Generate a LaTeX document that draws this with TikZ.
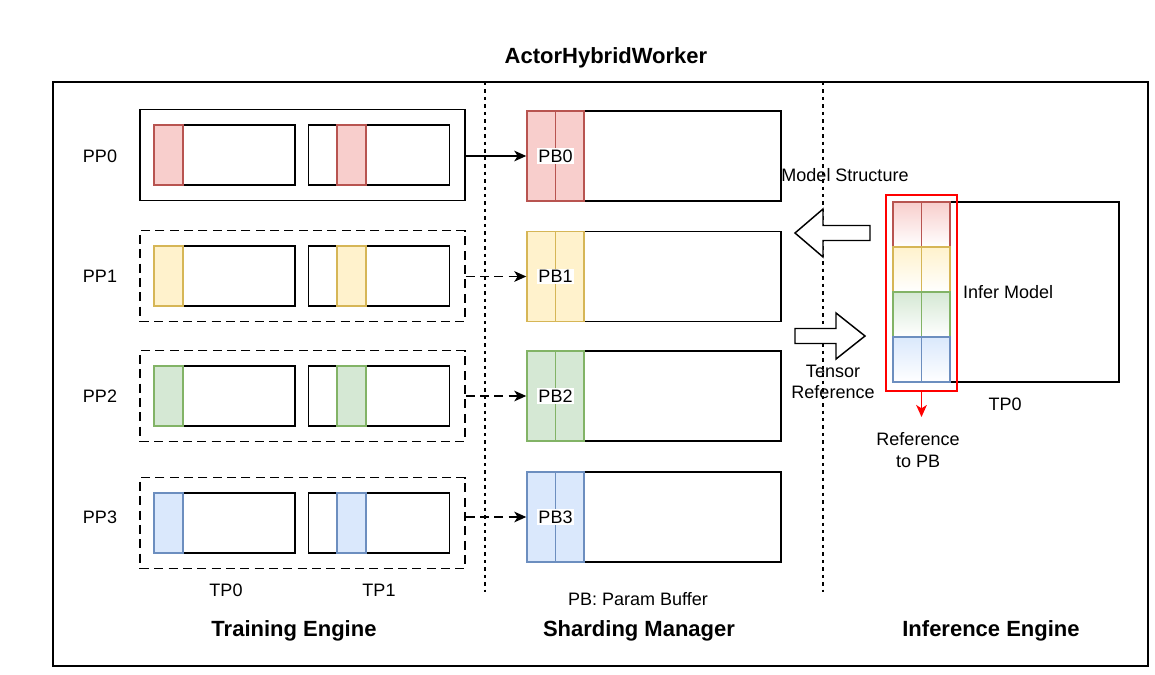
\documentclass[tikz,border=0pt]{standalone}
\usepackage{fontspec}
\setmainfont{Liberation Sans}
\usepackage{tikz}
\usetikzlibrary{arrows.meta,calc}
\newcommand{\pxu}{0.75pt}
\definecolor{redfill}{HTML}{F8CECC}\definecolor{rededge}{HTML}{B85450}
\definecolor{yellowfill}{HTML}{FFF2CC}\definecolor{yellowedge}{HTML}{D6B656}
\definecolor{greenfill}{HTML}{D5E8D4}\definecolor{greenedge}{HTML}{82B366}
\definecolor{bluefill}{HTML}{DAE8FC}\definecolor{blueedge}{HTML}{6C8EBF}

\begin{document}
\begin{tikzpicture}[x=0.75pt,y=-0.75pt,line width=1.1pt,
  every node/.style={font=\fontsize{13.5}{16}\selectfont},
  heading/.style={font=\fontsize{16.5}{19}\selectfont\bfseries},
  dashpat/.style={dash pattern=on 6.75pt off 4pt},
  dotpat/.style={dash pattern=on 2.6pt off 3pt},
  stage/.style={draw,inner sep=0,minimum width=325*\pxu,minimum height=91*\pxu},
  shard/.style={draw,inner sep=0,minimum width=141*\pxu,minimum height=60*\pxu},
  strip/.style={draw=#1edge,fill=#1fill,inner sep=0,minimum width=29*\pxu,minimum height=60*\pxu},
  buffer/.style={draw,inner sep=0,minimum width=254*\pxu,minimum height=90*\pxu},
  bufstrip/.style={draw=#1edge,fill=#1fill,inner sep=0,minimum width=28.5*\pxu,minimum height=90*\pxu},
  cell/.style={draw=#1edge,top color=#1fill,bottom color=white,inner sep=0,minimum width=28.5*\pxu,minimum height=45*\pxu},
  tip/.style={-{Stealth[length=9pt,width=8pt,inset=2.5pt]}}]

\useasboundingbox (0,0) rectangle (1155,674);

\node[heading] (title) at (606,58) {ActorHybridWorker};
\node[draw,inner sep=0,minimum width=1095*\pxu,minimum height=584*\pxu] (worker) at (600.5,374) {};

\draw[dotpat] (485,82) -- (485,592);
\draw[dotpat] (823,82) -- (823,592);

% training engine and sharding manager
\foreach \n/\col/\y/\yb/\sty in {0/red/155/156/solid,1/yellow/276/276.5/dashpat,2/green/396/396/dashpat,3/blue/523/517/dashpat}{
  \node[stage,\sty] (pp\n) at (302.5,\y) {};
  \node (ppl\n) at (100,\yb) {PP\n};
  \node[shard] (tpa\n) at (224.5,\y) {};
  \node[shard] (tpb\n) at (379,\y) {};
  \node[strip=\col] at (168.5,\y) {};
  \node[strip=\col] at (351.5,\y) {};
  \node[buffer] (pb\n) at (654,\yb) {};
  \node[bufstrip=\col] at (541.25,\yb) {};
  \node[bufstrip=\col] at (569.75,\yb) {};
  \node[fill=white,inner sep=1pt] (pbl\n) at (555.5,\yb) {PB\n};
  \draw[tip,\sty] (pp\n.east |- pb\n) -- (pb\n.west);
}

\node (tp0) at (226,590) {TP0};
\node (tp1) at (379,590) {TP1};
\node (pbnote) at (638,599) {PB: Param Buffer};

% inference engine
\node[draw,inner sep=0,minimum width=226*\pxu,minimum height=180*\pxu] (infer) at (1006,292) {};
\foreach \r/\col in {0/red,1/yellow,2/green,3/blue}
  \foreach \c in {0,1}
    \node[cell=\col] (c\r\c) at ({907.25+28.5*\c},{224.5+45*\r}) {};
\node[draw=red,inner sep=0,minimum width=71*\pxu,minimum height=196*\pxu] (refbox) at (921.5,293) {};
\node[anchor=west] (infl) at (958,292) {Infer Model};
\node (itp0) at (1005,404) {TP0};
\coordinate (refend) at (921.5,417);
\draw[red,-{Stealth[length=9pt,width=8pt,inset=2.5pt]}] (refbox.south) -- (refend);
\node[align=center,inner sep=0] (reftxt) at (918,450) {Reference\\to PB};

\node (mstruct) at (845,175) {Model Structure};
\draw[fill=white] (795,233) -- (823,209) -- (823,225.5) -- (870,225.5) -- (870,240.5) -- (823,240.5) -- (823,257) -- cycle;
\draw[fill=white] (865,336) -- (836,313) -- (836,328.5) -- (795,328.5) -- (795,343.5) -- (836,343.5) -- (836,359) -- cycle;
\node[align=center,inner sep=0] (tref) at (833,382) {Tensor\\Reference};

\node[heading] (train) at (294,631) {Training Engine};
\node[heading] (shard) at (639,631) {Sharding Manager};
\node[heading] (infeng) at (991,631) {Inference Engine};

\end{tikzpicture}
\end{document}
